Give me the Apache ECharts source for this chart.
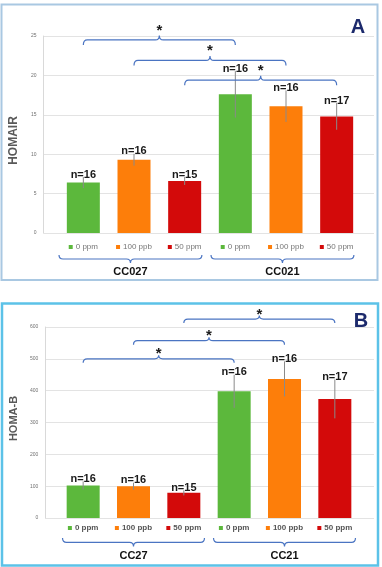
<!DOCTYPE html>
<html>
<head>
<meta charset="utf-8">
<script src="https://cdn.jsdelivr.net/npm/echarts@6/dist/echarts.min.js"></script>
<style>
html,body{margin:0;padding:0;background:#fff;}
#c{width:382px;height:567px;}
</style>
</head>
<body>
<div id="c"></div>
<script>
// ---------- DATA ----------
const doses = ['0 ppm', '100 ppb', '50 ppm'];
const strainsA = ['CC027', 'CC021'];
const strainsB = ['CC27', 'CC21'];

const homaIR = [6.4, 9.3, 6.6, 17.6, 16.1, 14.8];
const homaIRErr = [0.7, 0.75, 0.5, 2.95, 2.0, 1.7];
const homaIRN = [16, 16, 15, 16, 16, 17];

const homaB = [102, 100, 79, 398, 437, 374];
const homaBErr = [13, 11, 8, 52, 55, 61];
const homaBN = [16, 16, 15, 16, 16, 17];

const ticksA = [0, 5, 10, 15, 20, 25];
const ticksB = [0, 100, 200, 300, 400, 500, 600];

// significant comparisons (bar index pairs)
const comparisonsA = [[0, 3], [1, 4], [2, 5]];
const comparisonsB = [[0, 3], [1, 4], [2, 5]];
// ---------- LAYOUT / STYLE ----------
const braceLevelsA = [24.5, 21.9, 19.4];
const braceLevelsB = [500, 557, 625];
const doseColors = ['#5cb83c', '#fd7e0a', '#d30a0a'];
const braceColor = '#4a74c2';
const FONT = 'Liberation Sans, Arial, sans-serif';

function cats(strains) {
  const out = [];
  strains.forEach(s => doses.forEach(d => out.push(s + '|' + d)));
  return out;
}
const catsA = cats(strainsA);
const catsB = cats(strainsB);

const chart = echarts.init(document.getElementById('c'), null, {renderer: 'canvas'});

const grids = [
  {left: 43, top: 36, width: 331, height: 197},   // A background
  {left: 58, top: 36, width: 304, height: 197},   // A bars
  {left: 43, top: 327, width: 331, height: 191},  // B background
  {left: 58, top: 327, width: 302, height: 191}   // B bars
];

function bgY(gridIndex, ticks, name, nameSize, namePad, labelColor) {
  return {
    type: 'value', gridIndex: gridIndex,
    min: ticks[0], max: ticks[ticks.length - 1], interval: ticks[1] - ticks[0],
    name: name, nameLocation: 'middle', nameGap: 19, nameRotate: 90,
    nameTextStyle: {fontFamily: FONT, fontWeight: 'bold', fontSize: nameSize, color: '#595959', padding: namePad},
    axisLine: {show: true, lineStyle: {color: '#d9d9d9', width: 1}},
    axisTick: {show: false},
    axisLabel: {fontSize: 5, color: labelColor, margin: 7, fontFamily: FONT},
    splitLine: {show: true, lineStyle: {color: '#e3e3e3', width: 1}}
  };
}
function hiddenY(gridIndex, ticks) {
  return {type: 'value', gridIndex: gridIndex, min: ticks[0], max: ticks[ticks.length - 1],
    interval: ticks[1] - ticks[0], show: false, splitLine: {show: false}};
}
function catX(gridIndex, data, margin, labelColor, weight) {
  const rich = {};
  doseColors.forEach((c, k) => {
    rich['s' + k] = {width: 4, height: 4, backgroundColor: c};
  });
  rich.t = {fontSize: 8, color: labelColor, fontFamily: FONT, fontWeight: weight, padding: [0, 0, 0, 3]};
  return {
    type: 'category', gridIndex: gridIndex, data: data,
    axisLine: {show: false}, axisTick: {show: false}, splitLine: {show: false},
    axisLabel: {
      margin: margin, interval: 0,
      formatter: function (v, i) { return '{s' + (i % 3) + '| }{t|' + v.split('|')[1] + '}'; },
      rich: rich
    }
  };
}

function barSeries(xi, yi, values) {
  return {
    type: 'bar', xAxisIndex: xi, yAxisIndex: yi, barWidth: 33, z: 2,
    data: values.map((v, i) => ({value: v, itemStyle: {color: doseColors[i % 3]}})),
    silent: true
  };
}

function errSeries(xi, yi, values, errs, ns) {
  return {
    type: 'custom', xAxisIndex: xi, yAxisIndex: yi, z: 5, clip: false, silent: true,
    encode: {x: 0, y: [1, 2]},
    data: values.map((v, i) => [i, v - errs[i], v + errs[i]]),
    renderItem: function (params, api) {
      const i = api.value(0);
      const top = api.coord([i, api.value(2)]);
      const bot = api.coord([i, api.value(1)]);
      return {type: 'group', children: [
        {type: 'line', shape: {x1: top[0], y1: top[1], x2: bot[0], y2: bot[1]},
          style: {stroke: '#8a8a8a', lineWidth: 1}},
        {type: 'text', x: top[0], y: top[1] + 3,
          style: {text: 'n=' + ns[params.dataIndex], font: 'bold 11px ' + FONT, fill: '#1a1a1a',
            textAlign: 'center', textVerticalAlign: 'bottom'}}
      ]};
    }
  };
}

function bracePath(x0, x1, y, endDy, tipDy, r) {
  const xm = (x0 + x1) / 2;
  const ye = y + endDy, yt = y + tipDy;
  return 'M' + x0 + ',' + ye + ' Q' + x0 + ',' + y + ' ' + (x0 + r) + ',' + y +
    ' L' + (xm - r) + ',' + y + ' Q' + xm + ',' + y + ' ' + xm + ',' + yt +
    ' Q' + xm + ',' + y + ' ' + (xm + r) + ',' + y +
    ' L' + (x1 - r) + ',' + y + ' Q' + x1 + ',' + y + ' ' + x1 + ',' + ye;
}

function topBraceSeries(xi, yi, comps, levels, endDy, tipDy, starUp) {
  return {
    type: 'custom', xAxisIndex: xi, yAxisIndex: yi, z: 6, clip: false, silent: true,
    encode: {x: [0, 1], y: 2},
    data: comps.map((c, k) => [c[0], c[1], levels[k]]),
    renderItem: function (params, api) {
      const a = api.coord([api.value(0), api.value(2)]);
      const b = api.coord([api.value(1), api.value(2)]);
      const y = a[1];
      return {type: 'group', children: [
        {type: 'path', shape: {pathData: bracePath(a[0], b[0], y, endDy, tipDy, 4)},
          style: {stroke: braceColor, lineWidth: 1.2, fill: null}},
        {type: 'text', x: (a[0] + b[0]) / 2, y: y - starUp + 3.5,
          style: {text: '*', font: 'bold 15px ' + FONT, fill: '#1a1a1a',
            textAlign: 'center', textVerticalAlign: 'middle'}}
      ]};
    }
  };
}

function bottomBraceSeries(xi, yi, strains, leftF, rightF, endDy, lineDy, tipDy, labelDy) {
  return {
    type: 'custom', xAxisIndex: xi, yAxisIndex: yi, z: 6, clip: false, silent: true,
    encode: {x: [0, 1], y: 2},
    data: strains.map((s, k) => [k * 3, k * 3 + 2, 0]),
    renderItem: function (params, api) {
      const a = api.coord([api.value(0), 0]);
      const b = api.coord([api.value(1), 0]);
      const band = api.size([1, 0])[0];
      const x0 = a[0] - leftF * band, x1 = b[0] + rightF * band;
      const base = a[1];
      const y = base + lineDy;
      return {type: 'group', children: [
        {type: 'path', shape: {pathData: bracePath(x0, x1, y, endDy - lineDy, tipDy - lineDy, 4)},
          style: {stroke: braceColor, lineWidth: 1.2, fill: null}},
        {type: 'text', x: (x0 + x1) / 2, y: base + labelDy,
          style: {text: strains[params.dataIndex], font: 'bold 11px ' + FONT, fill: '#111',
            textAlign: 'center', textVerticalAlign: 'middle'}}
      ]};
    }
  };
}

const option = {
  backgroundColor: '#ffffff',
  animation: false,
  grid: grids,
  xAxis: [
    {type: 'value', gridIndex: 0, min: 0, max: 1, show: false},
    catX(1, catsA, 10, '#767676', 'normal'),
    {type: 'value', gridIndex: 2, min: 0, max: 1, show: false},
    catX(3, catsB, 6, '#555555', 'bold')
  ],
  yAxis: [
    bgY(0, ticksA, 'HOMAIR', 12, [0, 12, 0, 0], '#707070'),
    hiddenY(1, ticksA),
    bgY(2, ticksB, 'HOMA-B', 11, [0, 0, 0, 8], '#707070'),
    hiddenY(3, ticksB)
  ],
  graphic: [
    {type: 'rect', shape: {x: 1.5, y: 4.5, width: 376, height: 275.5},
      style: {stroke: '#a9c8e2', lineWidth: 2, fill: null}, silent: true},
    {type: 'rect', shape: {x: 2, y: 303.5, width: 376, height: 262},
      style: {stroke: '#5cc2e8', lineWidth: 2.5, fill: null}, silent: true},
    {type: 'text', x: 358, y: 27,
      style: {text: 'A', font: 'bold 20px ' + FONT, fill: '#1c2a6c', textAlign: 'center', textVerticalAlign: 'middle'}},
    {type: 'text', x: 361, y: 321,
      style: {text: 'B', font: 'bold 20px ' + FONT, fill: '#1c2a6c', textAlign: 'center', textVerticalAlign: 'middle'}}
  ],
  series: [
    barSeries(1, 1, homaIR),
    errSeries(1, 1, homaIR, homaIRErr, homaIRN),
    topBraceSeries(1, 1, comparisonsA, braceLevelsA, 5, -4.5, 13),
    bottomBraceSeries(1, 1, strainsA, 0.48, 0.34, 22, 26, 30, 38.7),
    barSeries(3, 3, homaB),
    errSeries(3, 3, homaB, homaBErr, homaBN),
    topBraceSeries(3, 3, comparisonsB, braceLevelsB, 4, -3.5, 8),
    bottomBraceSeries(3, 3, strainsB, 0.41, 0.41, 20, 24.4, 28.4, 38.4)
  ]
};
chart.setOption(option);
</script>
</body>
</html>
